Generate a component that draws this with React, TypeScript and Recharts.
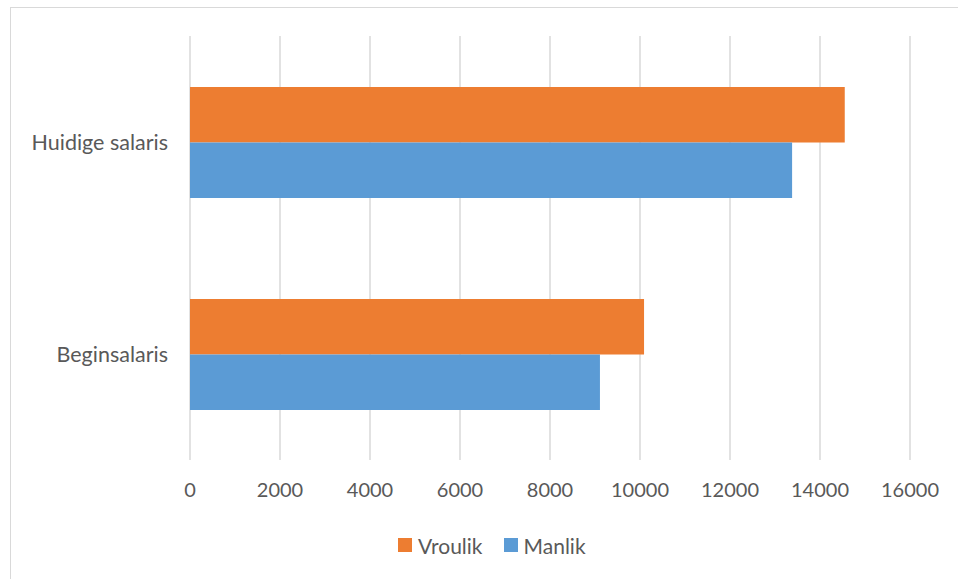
import React from "react";
import { Bar, BarChart, CartesianGrid, Legend, XAxis, YAxis } from "recharts";

const categories = ["Huidige salaris", "Beginsalaris"];
const vroulik = [14550, 10090];
const manlik = [13380, 9110];
const xTicks = [0, 2000, 4000, 6000, 8000, 10000, 12000, 14000, 16000];

const ORANGE = "#ED7D31";
const BLUE = "#5B9BD5";
const TEXT = "#595959";

const data = categories.map((name, i) => ({
  name,
  Vroulik: vroulik[i],
  Manlik: manlik[i],
}));

const legendItems = [
  { label: "Vroulik", color: ORANGE },
  { label: "Manlik", color: BLUE },
];

const SalaryLegend = () => (
  <div
    style={{
      display: "flex",
      alignItems: "center",
      height: 24,
      paddingLeft: 398,
      fontSize: 21,
      color: TEXT,
    }}
  >
    {legendItems.map((item) => (
      <span
        key={item.label}
        style={{ display: "flex", alignItems: "center", marginRight: 21 }}
      >
        <span
          style={{
            width: 14,
            height: 14,
            background: item.color,
            marginRight: 6,
            display: "inline-block",
          }}
        />
        {item.label}
      </span>
    ))}
  </div>
);

export default function App() {
  return (
    <div
      style={{
        position: "fixed",
        left: 0,
        top: 0,
        width: 958,
        height: 579,
        background: "#fff",
        overflow: "hidden",
        fontFamily: "Lato, sans-serif",
      }}
    >
      {/* chart border, cropped on right and bottom like the source */}
      <div
        style={{
          position: "absolute",
          left: 10,
          top: 7,
          width: 1200,
          height: 800,
          borderLeft: "1px solid #d9d9d9",
          borderTop: "1px solid #d9d9d9",
        }}
      />
      <div style={{ position: "absolute", left: 0, top: 0 }}>
        <BarChart
          width={958}
          height={579}
          data={data}
          layout="vertical"
          barGap={0}
          barSize={55.5}
          margin={{ top: 36, right: 48, left: 0, bottom: 22 }}
        >
          <CartesianGrid
            horizontal={false}
            stroke="#d9d9d9"
            strokeWidth={1.5}
          />
          <XAxis
            type="number"
            domain={[0, 16000]}
            ticks={xTicks}
            interval={0}
            axisLine={false}
            tickLine={false}
            tickMargin={17}
            height={73}
            tick={{ fill: TEXT, fontSize: 20 }}
          />
          <YAxis
            type="category"
            dataKey="name"
            width={190}
            axisLine={false}
            tickLine={false}
            tickMargin={16}
            tick={{ fill: TEXT, fontSize: 21.5 }}
          />
          <Legend
            verticalAlign="bottom"
            wrapperStyle={{ left: 0, width: 958 }}
            content={() => <SalaryLegend />}
          />
          <Bar dataKey="Vroulik" fill={ORANGE} isAnimationActive={false} />
          <Bar dataKey="Manlik" fill={BLUE} isAnimationActive={false} />
        </BarChart>
      </div>
    </div>
  );
}
